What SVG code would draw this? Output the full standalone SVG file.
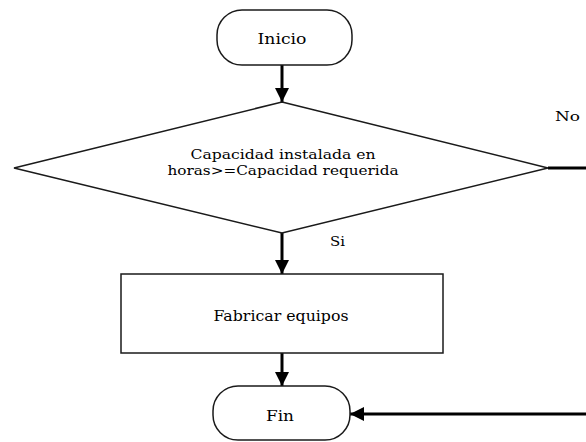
<svg xmlns="http://www.w3.org/2000/svg" width="586" height="442" viewBox="0 0 586 442">
  <style>
    .shape { fill: #ffffff; stroke: #1a1a1a; stroke-width: 1.5; }
    .link { fill: none; stroke: #000000; stroke-width: 3; }
    .label { font-family: "DejaVu Serif", "Liberation Serif", serif; fill: #000000; }
    .big { font-size: 15px; }
    .small { font-size: 13.5px; }
  </style>
  <defs>
    <marker id="arrow" viewBox="0 0 14 14" markerWidth="14" markerHeight="14" refX="14" refY="7" orient="auto" markerUnits="userSpaceOnUse">
      <path d="M0,0 L14,7 L0,14 Z" fill="#000000"/>
    </marker>
  </defs>
  <rect width="586" height="442" fill="#ffffff"/>

  <g id="connectors">
    <line class="link" x1="282" y1="65" x2="282" y2="102" marker-end="url(#arrow)"/>
    <line class="link" x1="282" y1="233" x2="282" y2="274" marker-end="url(#arrow)"/>
    <line class="link" x1="282" y1="353" x2="282" y2="386" marker-end="url(#arrow)"/>
    <line class="link" x1="548" y1="168" x2="586" y2="168"/>
    <line class="link" x1="586" y1="414" x2="350" y2="414" marker-end="url(#arrow)"/>
    <text class="label small" x="555" y="121" textLength="25" lengthAdjust="spacingAndGlyphs">No</text>
    <text class="label small" x="330" y="246" textLength="15" lengthAdjust="spacingAndGlyphs">Si</text>
  </g>

  <g id="inicio">
    <rect class="shape" x="217" y="10" width="135" height="55" rx="25" ry="25"/>
    <text class="label big" x="282" y="44" text-anchor="middle" textLength="49" lengthAdjust="spacingAndGlyphs">Inicio</text>
  </g>

  <g id="decision">
    <polygon class="shape" points="282,102 548,168 282,233 14,168"/>
    <text class="label small" x="283" y="159" text-anchor="middle" textLength="185" lengthAdjust="spacingAndGlyphs">Capacidad instalada en</text>
    <text class="label small" x="283" y="175" text-anchor="middle" textLength="231" lengthAdjust="spacingAndGlyphs">horas&gt;=Capacidad requerida</text>
  </g>

  <g id="fabricar">
    <rect class="shape" x="121" y="274" width="322" height="79"/>
    <text class="label big" x="281" y="321" text-anchor="middle" textLength="135" lengthAdjust="spacingAndGlyphs">Fabricar equipos</text>
  </g>

  <g id="fin">
    <rect class="shape" x="213" y="386" width="137" height="54" rx="25" ry="25"/>
    <text class="label big" x="280" y="421" text-anchor="middle" textLength="28" lengthAdjust="spacingAndGlyphs">Fin</text>
  </g>
</svg>
